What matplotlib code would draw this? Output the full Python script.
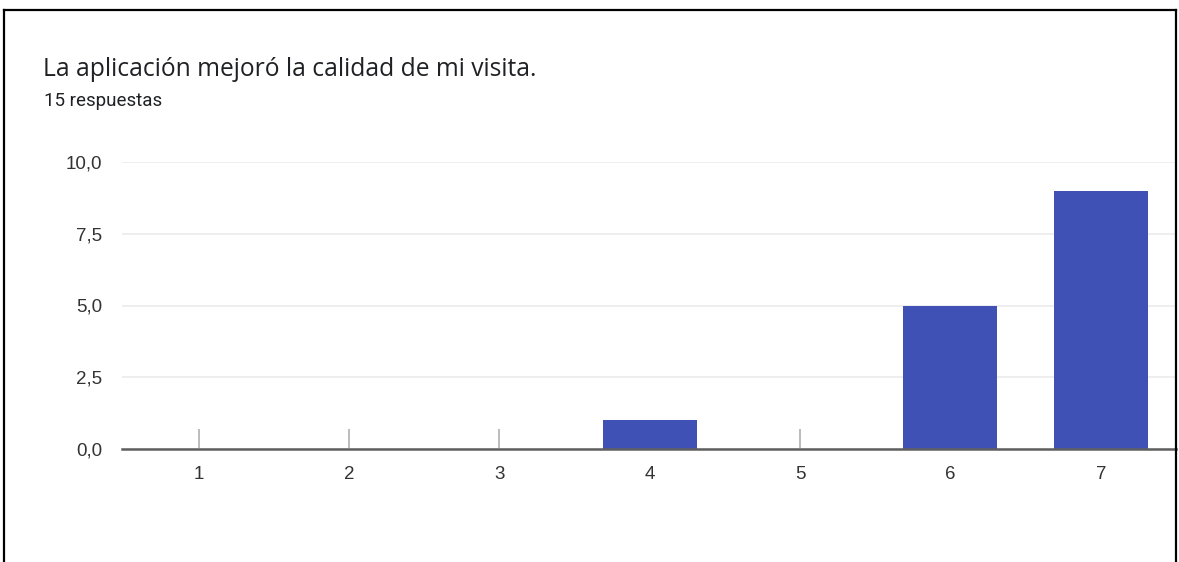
import matplotlib.pyplot as plt
from matplotlib.lines import Line2D
from matplotlib.ticker import FuncFormatter

# ==========================
# Data
# ==========================
categories = [1, 2, 3, 4, 5, 6, 7]
counts = [0, 0, 0, 1, 0, 5, 9]
y_ticks = [0, 2.5, 5, 7.5, 10]
title = "La aplicación mejoró la calidad de mi visita."
subtitle = "15 respuestas"

plt.rcParams['font.family'] = ['Liberation Sans', 'DejaVu Sans']

W, H = 1179, 562
fig = plt.figure(figsize=(W / 100, H / 100), dpi=100)

# axes box in pixels: x 122..1176, baseline y=449, top (10,0) y=162
ax = fig.add_axes([122 / W, (H - 449) / H, (1176 - 122) / W, (449 - 162) / H])

ax.bar(categories, counts, width=0.625, color="#3f51b5", zorder=2)

ax.set_xlim(0.49, 7.5)
ax.set_ylim(0, 10)
ax.set_xticks(categories)
ax.set_yticks(y_ticks)
ax.yaxis.set_major_formatter(FuncFormatter(lambda v, p: f"{v:.1f}".replace(".", ",")))

ax.set_axisbelow(True)
ax.grid(axis="y", color="#ebebeb", linewidth=1.2)
ax.grid(axis="x", visible=False)

for s in ["top", "right", "left"]:
    ax.spines[s].set_visible(False)
ax.spines["bottom"].set_color("#5f5f5f")
ax.spines["bottom"].set_linewidth(1.8)
ax.spines["bottom"].set_zorder(3)

ax.tick_params(axis="x", direction="in", length=14.5, width=1.2, color="#b0b0b0",
               pad=12, labelsize=13.5, labelcolor="#333333")
ax.tick_params(axis="y", length=0, pad=14, labelsize=13.5, labelcolor="#333333")

# title and subtitle
fig.text(43 / W, 1 - 70 / H, title, fontsize=17.7, color="#202124", va="center", ha="left",
         family=["Open Sans", "DejaVu Sans"])
fig.text(44 / W, 1 - 101 / H, subtitle, fontsize=13.5, color="#202124", va="center", ha="left",
         family=["Roboto", "DejaVu Sans"])

# screenshot border
for xs, ys in [([4 / W, 4 / W], [0, 1 - 10 / H]),
               ([4 / W, 1176 / W], [1 - 10 / H, 1 - 10 / H]),
               ([1176 / W, 1176 / W], [0, 1 - 10 / H])]:
    fig.add_artist(Line2D(xs, ys, color="black", linewidth=1.6))

plt.savefig("out.png", dpi=100)
plt.close()
